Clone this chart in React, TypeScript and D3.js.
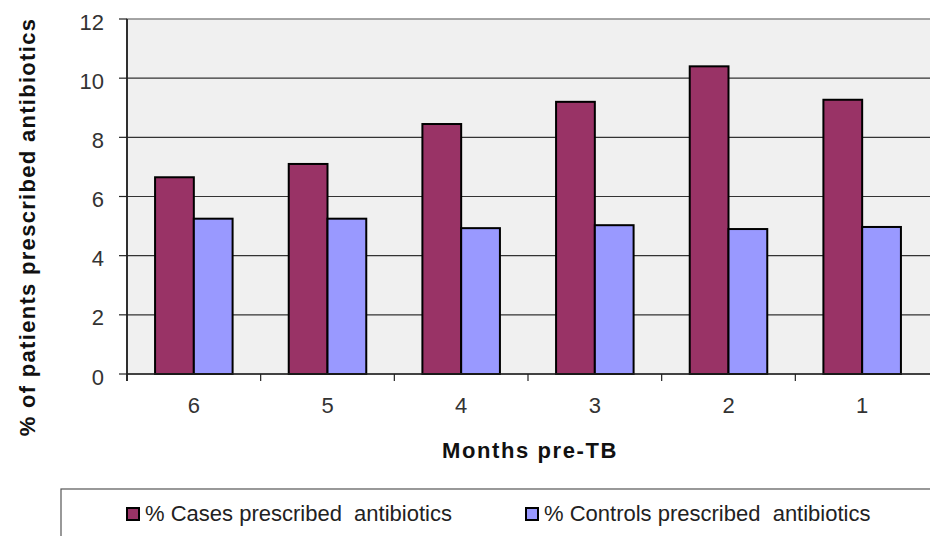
import React from "react";
import * as d3 from "d3";

const categories = ["6", "5", "4", "3", "2", "1"];
const casesValues = [6.65, 7.1, 8.45, 9.2, 10.4, 9.27];
const controlsValues = [5.25, 5.25, 4.93, 5.03, 4.9, 4.97];
const yTicks = [0, 2, 4, 6, 8, 10, 12];
const seriesNames = ["% Cases prescribed  antibiotics", "% Controls prescribed  antibiotics"];
const seriesColors = ["#993366", "#9999ff"];

const W = 930, H = 536;
const plot = { left: 127, right: 929, top: 19, bottom: 374 };

export default function App() {
  const x = d3.scaleBand<string>().domain(categories).range([plot.left, plot.right]).paddingInner(0).paddingOuter(0);
  const y = d3.scaleLinear().domain([0, 12]).range([plot.bottom, plot.top]);
  const bw = x.bandwidth();
  const barW = bw * 0.29;
  const sub = d3.scaleBand<number>().domain([0, 1]).range([(bw - 2 * barW) / 2, (bw + 2 * barW) / 2]);
  const series = [casesValues, controlsValues];
  const font = "'Liberation Sans', Arial, sans-serif";
  const legendX = [127, 526];

  return (
    <svg width={W} height={H} style={{ position: "absolute", left: 0, top: 0 }} fontFamily={font}>
      <rect x={0} y={0} width={W} height={H} fill="#fff" />
      <rect x={plot.left} y={plot.top} width={plot.right - plot.left + 10} height={plot.bottom - plot.top} fill="#f0f0f0" stroke="#888" strokeWidth={1.5} />
      {yTicks.map((t) => (
        <g key={t}>
          {t > 0 && t < 12 && (
            <line x1={plot.left} x2={plot.right + 2} y1={y(t)} y2={y(t)} stroke="#333" strokeWidth={1.2} />
          )}
          <line x1={plot.left - 8} x2={plot.left} y1={y(t)} y2={y(t)} stroke="#222" strokeWidth={1.2} />
          <text x={104} y={y(t) + 10.5} textAnchor="end" fontSize={22} fill="#333">{t}</text>
        </g>
      ))}
      {categories.map((c, i) => (
        <g key={c}>
          {series.map((vals, s) => (
            <rect key={s} x={(x(c) as number) + (sub(s) as number)} y={y(vals[i])} width={sub.bandwidth()} height={plot.bottom - y(vals[i])} fill={seriesColors[s]} stroke="#000" strokeWidth={2} />
          ))}
          <text x={(x(c) as number) + bw / 2} y={413} textAnchor="middle" fontSize={22} fill="#333">{c}</text>
        </g>
      ))}
      {categories.map((c, i) => (
        <line key={"t" + i} x1={x(c) as number} x2={x(c) as number} y1={plot.bottom} y2={plot.bottom + 7} stroke="#222" strokeWidth={1.2} />
      ))}
      <line x1={plot.left} x2={plot.right + 2} y1={plot.bottom} y2={plot.bottom} stroke="#222" strokeWidth={1.5} />
      <line x1={plot.left} x2={plot.left} y1={plot.top} y2={plot.bottom + 7} stroke="#222" strokeWidth={1.8} />
      <text x={(plot.left + plot.right) / 2 + 2} y={458} textAnchor="middle" fontSize={22} fontWeight="bold" letterSpacing={1.6} fill="#111">Months pre-TB</text>
      <text transform={`translate(35, 227) rotate(-90)`} textAnchor="middle" fontSize={22} fontWeight="bold" letterSpacing={1.3} fill="#111">% of patients prescribed antibiotics</text>
      <rect x={61} y={489} width={900} height={60} fill="#fff" stroke="#555" strokeWidth={1.2} />
      {seriesNames.map((n, s) => {
        const lx = legendX[s];
        return (
          <g key={n}>
            <rect x={lx} y={508} width={12} height={12} fill={seriesColors[s]} stroke="#000" strokeWidth={2} />
            <text x={lx + 18} y={521} fontSize={22} fill="#222" style={{ whiteSpace: "pre" }}>{n}</text>
          </g>
        );
      })}
    </svg>
  );
}
